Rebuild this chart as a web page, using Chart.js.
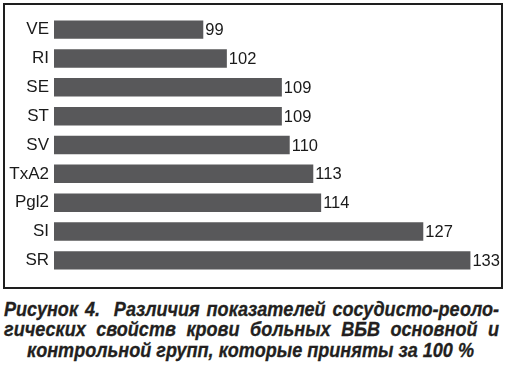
<!DOCTYPE html>
<html>
<head>
<meta charset="utf-8">
<script src="https://cdn.jsdelivr.net/npm/chart.js@4"></script>
<style>
    body { margin: 0; background: #fff; }
    #wrap { position: relative; width: 506px; height: 366px; overflow: hidden; }
    #frame { position: absolute; left: 3px; top: 3px; width: 500px; height: 286px;
             border: 2px solid #1e1e1e; box-sizing: border-box; }
    #graph1 { position: absolute; left: 0; top: 0; }
    .cap { position: absolute; left: 4px; white-space: nowrap; transform-origin: 0 0;
           font: italic bold 19.5px "Liberation Sans", Arial, sans-serif; color: #231f20;
           -webkit-text-stroke: 0.3px #231f20; line-height: 20px; }
    .just { text-align: justify; text-align-last: justify; white-space: normal; }
</style>
</head>
<body>
<div id="wrap">
    <div id="frame"></div>
    <canvas id="graph1" width="506" height="290"></canvas>
    <div class="cap just" id="line1" style="top:299px">Рисунок 4.&nbsp; Различия показателей сосудисто-реоло-</div>
    <div class="cap just" id="line2" style="top:319px">гических свойств крови больных ВБВ основной и</div>
    <div class="cap" id="line3" style="top:340px">контрольной групп, которые приняты за 100 %</div>
</div>
<script>
// Chart values
const labels = ['VE', 'RI', 'SE', 'ST', 'SV', 'TxA2', 'Pgl2', 'SI', 'SR'];
const values = [99, 102, 109, 109, 110, 113, 114, 127, 133];

// squeeze the caption so it fits like the printed one
const l3 = document.getElementById('line3');
const s = 447 / l3.getBoundingClientRect().width;
l3.style.left = '27px';
l3.style.transform = 'scaleX(' + s + ')';
['line1', 'line2'].forEach(id => {
    const el = document.getElementById(id);
    el.style.width = (495 / s) + 'px';
    el.style.transform = 'scaleX(' + s + ')';
});

// numbers to the right of the bars
const valueLabels = {
    id: 'valueLabels',
    afterDatasetsDraw(chart) {
        const ctx = chart.ctx;
        const meta = chart.getDatasetMeta(0);
        ctx.save();
        ctx.font = '16.5px "Liberation Sans", Arial, sans-serif';
        ctx.fillStyle = '#1a1a1a';
        ctx.textAlign = 'left';
        ctx.textBaseline = 'middle';
        meta.data.forEach((bar, i) => {
            ctx.fillText(values[i], bar.x + 2, bar.y + 1);
        });
        ctx.restore();
    }
};

const ctx = document.getElementById('graph1');
const myChart = new Chart(ctx, {
    type: 'bar',
    data: {
        labels: labels,
        datasets: [{
            data: values,
            backgroundColor: '#58585a',
            borderWidth: 0,
            categoryPercentage: 1,
            barPercentage: 0.64
        }]
    },
    options: {
        indexAxis: 'y',
        responsive: false,
        animation: false,
        layout: {
            padding: { left: 4, right: 12, top: 12.7, bottom: 11.2 }
        },
        scales: {
            x: {
                display: false,
                min: 80,
                max: 136
            },
            y: {
                afterFit(scale) { scale.width = 50; },
                border: { display: false },
                grid: { display: false, drawTicks: false },
                ticks: {
                    padding: 5,
                    color: '#1a1a1a',
                    font: { family: '"Liberation Sans", Arial, sans-serif', size: 17 }
                }
            }
        },
        plugins: {
            legend: { display: false },
            tooltip: { enabled: false }
        }
    },
    plugins: [valueLabels]
});
</script>
</body>
</html>
